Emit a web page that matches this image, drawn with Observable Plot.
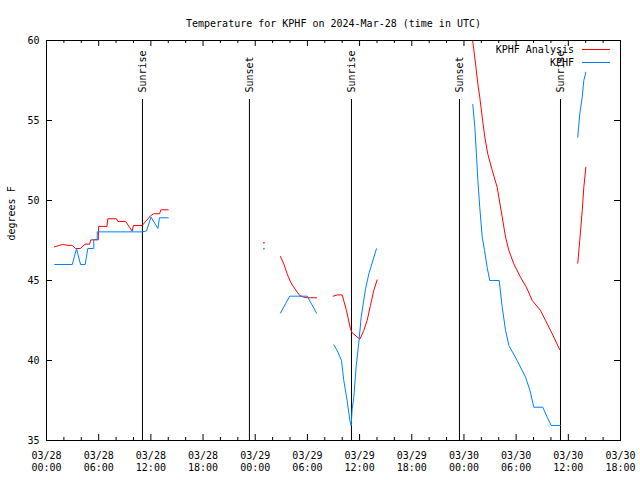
<!DOCTYPE html>
<html>
<head>
<meta charset="utf-8">
<script src="https://cdn.jsdelivr.net/npm/d3@7"></script>
<script src="https://cdn.jsdelivr.net/npm/@observablehq/plot@0.6"></script>
<style>
  body { margin: 0; background: #fff; }
  #chart svg { display: block; }
</style>
</head>
<body>
<div id="chart"></div>
<script>
// ---------- data (UTC, 2024) ----------
const titleText = "Temperature for KPHF on 2024-Mar-28 (time in UTC)";
const yLabel = "degrees F";
const seriesNames = ["KPHF Analysis", "KPHF"];

// null marks a gap in the record
const analysisTimes = [
  "03-28 00:55","03-28 01:30","03-28 01:51","03-28 02:24","03-28 02:57","03-28 03:21","03-28 03:54",
  "03-28 04:24","03-28 04:57","03-28 05:06","03-28 05:57","03-28 06:00","03-28 06:57","03-28 07:03",
  "03-28 08:03","03-28 08:12","03-28 09:06","03-28 09:51","03-28 10:00","03-28 11:00","03-28 11:57",
  "03-28 12:18","03-28 13:00","03-28 13:09","03-28 14:00",
  null,
  "03-29 01:00",
  null,
  "03-29 02:54","03-29 03:17","03-29 03:40","03-29 04:04","03-29 04:26","03-29 04:50","03-29 05:07",
  "03-29 05:35","03-29 05:59","03-29 07:03",
  null,
  "03-29 08:58","03-29 09:25","03-29 10:00","03-29 10:30","03-29 10:57","03-29 11:09","03-29 12:02",
  "03-29 12:29","03-29 12:52","03-29 13:15","03-29 13:38","03-29 14:01",
  null,
  "03-30 01:00","03-30 01:20","03-30 01:36","03-30 01:49","03-30 02:06","03-30 02:24","03-30 02:44",
  "03-30 03:15","03-30 03:49","03-30 04:24","03-30 04:47","03-30 05:10","03-30 05:44","03-30 06:30",
  "03-30 07:11","03-30 07:51","03-30 08:48","03-30 09:23","03-30 10:09","03-30 11:01",
  null,
  "03-30 13:05","03-30 13:19","03-30 13:36","03-30 13:47","03-30 14:01"
];
const analysisTemps = [
  47.1,47.2,47.25,47.2,47.2,47.0,47.0,
  47.27,47.27,47.54,47.54,48.38,48.38,48.86,
  48.86,48.69,48.69,48.08,48.44,48.44,49.04,
  49.17,49.17,49.42,49.42,
  null,
  47.36,
  null,
  46.5,46.04,45.42,44.9,44.58,44.27,44.06,
  43.96,43.92,43.92,
  null,
  44.02,44.1,44.1,43.1,41.98,41.73,41.33,
  41.88,42.5,43.44,44.38,45.04,
  null,
  60.0,58.54,57.29,56.46,55.21,53.96,52.92,
  51.88,50.83,48.96,47.71,46.88,46.04,45.21,
  44.58,43.75,43.13,42.5,41.67,40.67,
  null,
  46.08,47.5,49.38,50.83,52.08
];

const kphfTimes = [
  "03-28 00:57","03-28 02:58","03-28 03:27","03-28 03:55","03-28 04:27","03-28 04:45","03-28 05:26",
  "03-28 05:26","03-28 05:50","03-28 05:50","03-28 11:02","03-28 11:30","03-28 12:01","03-28 12:49",
  "03-28 12:59","03-28 14:00",
  null,
  "03-29 01:00",
  null,
  "03-29 02:54","03-29 03:58","03-29 05:59","03-29 07:03",
  null,
  "03-29 09:02","03-29 09:25","03-29 09:55","03-29 10:11","03-29 10:34","03-29 10:53","03-29 11:02",
  "03-29 11:09","03-29 11:20","03-29 11:37","03-29 11:55","03-29 12:11","03-29 12:41","03-29 13:04",
  "03-29 13:56",
  null,
  "03-30 01:01","03-30 01:15","03-30 01:26","03-30 01:36","03-30 01:49","03-30 02:06","03-30 02:22",
  "03-30 02:40","03-30 02:58","03-30 04:03","03-30 04:24","03-30 04:47","03-30 05:10","03-30 06:07",
  "03-30 07:05","03-30 07:35","03-30 08:02","03-30 09:04","03-30 09:34","03-30 10:02","03-30 11:06",
  null,
  "03-30 13:05","03-30 13:19","03-30 13:36","03-30 13:47","03-30 14:01"
];
const kphfTemps = [
  46.0,46.0,47.0,46.0,46.0,47.0,47.0,
  47.56,47.56,48.04,48.04,48.1,48.96,48.25,
  48.92,48.92,
  null,
  46.98,
  null,
  42.96,44.02,44.02,42.96,
  null,
  40.98,40.63,40.0,38.75,37.5,36.25,35.94,
  36.98,37.7,39.69,41.14,42.71,44.48,45.42,
  46.98,
  null,
  56.0,54.58,52.92,51.25,49.58,47.71,46.88,
  45.83,45.0,45.0,43.33,41.88,40.94,40.0,
  38.96,38.13,37.08,37.08,36.46,35.94,35.94,
  null,
  53.96,55.42,56.46,57.5,58.02
];

const sunTimes  = ["03-28 11:02","03-28 23:20","03-29 11:04","03-29 23:29","03-30 11:06"];
const sunLabels = ["Sunrise","Sunset","Sunrise","Sunset","Sunrise"];

const xTickTimes = ["03-28 00:00","03-28 06:00","03-28 12:00","03-28 18:00",
                    "03-29 00:00","03-29 06:00","03-29 12:00","03-29 18:00",
                    "03-30 00:00","03-30 06:00","03-30 12:00","03-30 18:00"];
const xMinorTimes = ["03-28 02:00","03-28 04:00","03-28 08:00","03-28 10:00","03-28 14:00","03-28 16:00",
                     "03-28 20:00","03-28 22:00","03-29 02:00","03-29 04:00","03-29 08:00","03-29 10:00",
                     "03-29 14:00","03-29 16:00","03-29 20:00","03-29 22:00","03-30 02:00","03-30 04:00",
                     "03-30 08:00","03-30 10:00","03-30 14:00","03-30 16:00"];
const yTicks = [35, 40, 45, 50, 55, 60];
const xDomain = ["03-28 00:00", "03-30 18:00"];
const yDomain = [35, 60];

// ---------- build ----------
const RED = "#ff0000", BLUE = "#0080ff";
const parseT = s => s == null ? null : new Date(`2024-${s.slice(0,5)}T${s.slice(6)}:00Z`);
const rows = (times, temps) => times.map((t, i) => ({time: parseT(t), temp: t == null ? NaN : temps[i]}));
const isolated = (times, temps) => times
  .map((t, i) => ({t, i}))
  .filter(({t, i}) => t != null && (i === 0 || times[i-1] == null) && (i === times.length-1 || times[i+1] == null))
  .map(({t, i}) => ({time: parseT(t), temp: temps[i]}));

const analysisRows = rows(analysisTimes, analysisTemps);
const kphfRows = rows(kphfTimes, kphfTemps);
const sunRows = sunTimes.map((t, i) => ({time: parseT(t), label: sunLabels[i]}));
const xTicks = xTickTimes.map(parseT);
const xMinor = xMinorTimes.map(parseT);
const fmtDate = d3.utcFormat("%m/%d"), fmtTime = d3.utcFormat("%H:%M");

const chart = Plot.plot({
  width: 640,
  height: 480,
  marginLeft: 46,
  marginRight: 20,
  marginTop: 40,
  marginBottom: 40,
  style: {fontFamily: "'DejaVu Sans Mono', monospace", fontSize: "10px", color: "black", background: "white"},
  x: {type: "utc", domain: xDomain.map(parseT)},
  y: {domain: yDomain},
  marks: [
    Plot.ruleX(sunRows, {x: "time", insetTop: 59, stroke: "black", strokeWidth: 1}),
    Plot.text(sunRows, {x: "time", text: "label", frameAnchor: "top", dx: -4, dy: 52, rotate: -90, textAnchor: "start", fill: "black"}),
    Plot.line(analysisRows, {x: "time", y: "temp", stroke: RED, strokeWidth: 1, clip: true}),
    Plot.line(kphfRows, {x: "time", y: "temp", stroke: BLUE, strokeWidth: 1, clip: true}),
    Plot.dot(isolated(analysisTimes, analysisTemps), {x: "time", y: "temp", r: 0.8, fill: RED, stroke: null}),
    Plot.dot(isolated(kphfTimes, kphfTemps), {x: "time", y: "temp", r: 0.8, fill: BLUE, stroke: null}),
    // inward tick marks (bottom / top / left / right)
    Plot.tickX(xTicks, {x: d => d, insetTop: 394, stroke: "black"}),
    Plot.tickX(xTicks, {x: d => d, insetBottom: 394, stroke: "black"}),
    Plot.tickX(xMinor, {x: d => d, insetTop: 397, stroke: "black"}),
    Plot.tickX(xMinor, {x: d => d, insetBottom: 397, stroke: "black"}),
    Plot.tickY(yTicks, {y: d => d, insetRight: 568, stroke: "black"}),
    Plot.tickY(yTicks, {y: d => d, insetLeft: 568, stroke: "black"}),
    Plot.frame({stroke: "black"}),
    Plot.axisX({ticks: xTicks, tickSize: 0, tickPadding: 10, lineHeight: 1.2, label: null,
                tickFormat: d => `${fmtDate(d)}\n${fmtTime(d)}`}),
    Plot.axisY({ticks: yTicks, tickSize: 0, tickPadding: 7, label: null}),
    Plot.text([titleText], {frameAnchor: "top", dy: -21, text: d => d, fill: "black"}),
    Plot.text([yLabel], {frameAnchor: "left", dx: -35, rotate: -90, text: d => d, fill: "black"})
  ]
});

// legend (top-right, inside the frame)
const svg = d3.select(chart);
const legendColors = [RED, BLUE];
const lg = svg.append("g").attr("font-family", "'DejaVu Sans Mono', monospace").attr("font-size", 10);
seriesNames.forEach((name, i) => {
  const y = 49.5 + i * 13;
  lg.append("text").attr("x", 574).attr("y", y).attr("dy", "0.32em")
    .attr("text-anchor", "end").attr("fill", "black").text(name);
  lg.append("line").attr("x1", 582).attr("x2", 610).attr("y1", y).attr("y2", y)
    .attr("stroke", legendColors[i]).attr("stroke-width", 1);
});

document.getElementById("chart").append(chart);
</script>
</body>
</html>
